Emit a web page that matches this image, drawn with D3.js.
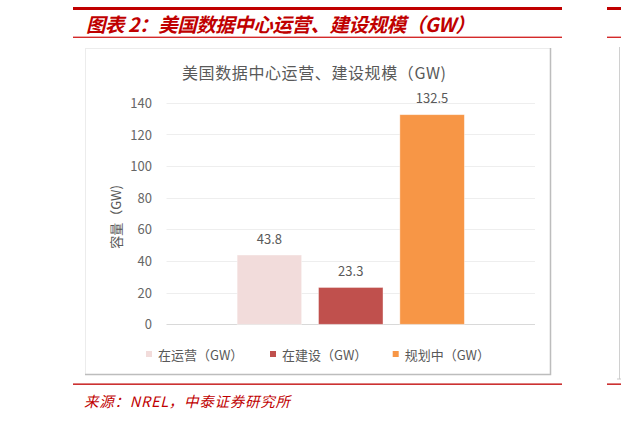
<!DOCTYPE html>
<html><head><meta charset="utf-8">
<script src="https://cdn.jsdelivr.net/npm/d3@7"></script>
<style>
html,body{margin:0;padding:0;background:#fff;}
svg{display:block;}
text{font-family:"Noto Sans CJK SC","Noto Sans",sans-serif;}
</style></head>
<body>
<script>
const seriesNames = ["在运营（GW）", "在建设（GW）", "规划中（GW）"];
const seriesValues = [43.8, 23.3, 132.5];
const seriesColors = ["#F2DCDB", "#C0504D", "#F79646"];
const yTicks = [0, 20, 40, 60, 80, 100, 120, 140];
const figTitle = "图表 2：美国数据中心运营、建设规模（GW）";
const chartTitle = "美国数据中心运营、建设规模（GW)";
const yTitle = "容量（GW)";
const sourceText = "来源：NREL，中泰证券研究所";

const W = 621, H = 422;
const red = "#C00000";
const svg = d3.select("body").append("svg").attr("width", W).attr("height", H);

// report frame lines
svg.append("rect").attr("x", 73).attr("y", 7).attr("width", 489).attr("height", 3).attr("fill", red);
svg.append("rect").attr("x", 607).attr("y", 7).attr("width", 14).attr("height", 3).attr("fill", red);
svg.append("rect").attr("x", 73).attr("y", 36.6).attr("width", 489).attr("height", 1.4).attr("fill", "#D42A2A");
svg.append("rect").attr("x", 607).attr("y", 36.6).attr("width", 14).attr("height", 1.4).attr("fill", "#D42A2A");
svg.append("rect").attr("x", 73).attr("y", 383.5).attr("width", 489).attr("height", 1.3).attr("fill", red);
svg.append("rect").attr("x", 607).attr("y", 383.5).attr("width", 14).attr("height", 1.3).attr("fill", red);
// fragment of neighbour chart
svg.append("line").attr("x1", 619.5).attr("x2", 619.5).attr("y1", 47).attr("y2", 379).attr("stroke", "#d0d0d0").attr("stroke-width", 1);
svg.append("line").attr("x1", 617).attr("x2", 621).attr("y1", 379).attr("y2", 379).attr("stroke", "#c8c8c8").attr("stroke-width", 1);

svg.append("text").attr("x", 86).attr("y", 23).attr("dominant-baseline", "central")
  .attr("fill", red).attr("font-size", 19.5).attr("font-weight", "bold").attr("font-style", "italic")
  .attr("textLength", 389).attr("lengthAdjust", "spacing")
  .text(figTitle);

svg.append("text").attr("x", 84).attr("y", 400).attr("dominant-baseline", "central")
  .attr("fill", red).attr("font-size", 14.5).attr("font-style", "italic")
  .attr("textLength", 206).attr("lengthAdjust", "spacing")
  .text(sourceText);

// chart box
svg.append("rect").attr("x", 85.5).attr("y", 48.5).attr("width", 465).attr("height", 326)
  .attr("fill", "#fff").attr("stroke", "#ececec").attr("stroke-width", 1);
svg.append("path").attr("d", "M550.5,48 V374.5 H85").attr("fill", "none").attr("stroke", "#bdbdbd").attr("stroke-width", 1.5);

svg.append("text").attr("x", 314).attr("y", 72).attr("text-anchor", "middle").attr("dominant-baseline", "central")
  .attr("fill", "#595959").attr("font-size", 16).attr("textLength", 264).attr("lengthAdjust", "spacing")
  .text(chartTitle);

// scales
const plotL = 166.5, plotR = 535, y0 = 324.3, yTop = 102.8;
const y = d3.scaleLinear().domain([0, 140]).range([y0, yTop]);
const x = d3.scaleBand().domain(seriesNames).range([plotL, plotR]).paddingInner(0.207).paddingOuter(0.868);

// gridlines
const grid = svg.append("g");
grid.selectAll("line").data(yTicks).join("line")
  .attr("x1", plotL).attr("x2", plotR)
  .attr("y1", d => Math.round(y(d)) + 0.5).attr("y2", d => Math.round(y(d)) + 0.5)
  .attr("stroke", d => d === 0 ? "#d9d9d9" : "#eeeeee").attr("stroke-width", 1);

// y axis labels
const yAxis = d3.axisLeft(y).tickValues(yTicks).tickSize(0).tickPadding(0);
const gy = svg.append("g").attr("transform", `translate(152,0)`).call(yAxis);
gy.select(".domain").remove();
gy.selectAll("text").attr("fill", "#666666").attr("font-size", 13)
  .attr("font-family", "\"Noto Sans CJK SC\",sans-serif").attr("dy", "0.35em");

svg.append("text").attr("transform", "translate(115,217) rotate(-90)")
  .attr("text-anchor", "middle").attr("dominant-baseline", "central")
  .attr("fill", "#595959").attr("font-size", 13).text(yTitle);

// bars
svg.append("g").selectAll("rect").data(seriesValues).join("rect")
  .attr("x", (d, i) => x(seriesNames[i])).attr("width", x.bandwidth())
  .attr("y", d => y(d)).attr("height", d => y0 - y(d))
  .attr("fill", (d, i) => seriesColors[i])
  .attr("stroke", "rgba(255,255,255,0.5)").attr("stroke-width", 0.8);

svg.append("g").selectAll("text").data(seriesValues).join("text")
  .attr("x", (d, i) => x(seriesNames[i]) + x.bandwidth() / 2)
  .attr("y", d => y(d) - 17).attr("text-anchor", "middle").attr("dominant-baseline", "central")
  .attr("fill", "#595959").attr("font-size", 13).text(d => d.toFixed(1));

// legend
const legX = [146, 270, 392.7];
const leg = svg.append("g").selectAll("g").data(seriesNames).join("g")
  .attr("transform", (d, i) => `translate(${legX[i]},354)`);
leg.append("rect").attr("x", 0).attr("y", -3).attr("width", 6).attr("height", 6).attr("fill", (d, i) => seriesColors[i]);
leg.append("text").attr("x", 12).attr("y", 0).attr("dominant-baseline", "central")
  .attr("fill", "#595959").attr("font-size", 13).text(d => d);
</script>
</body></html>
